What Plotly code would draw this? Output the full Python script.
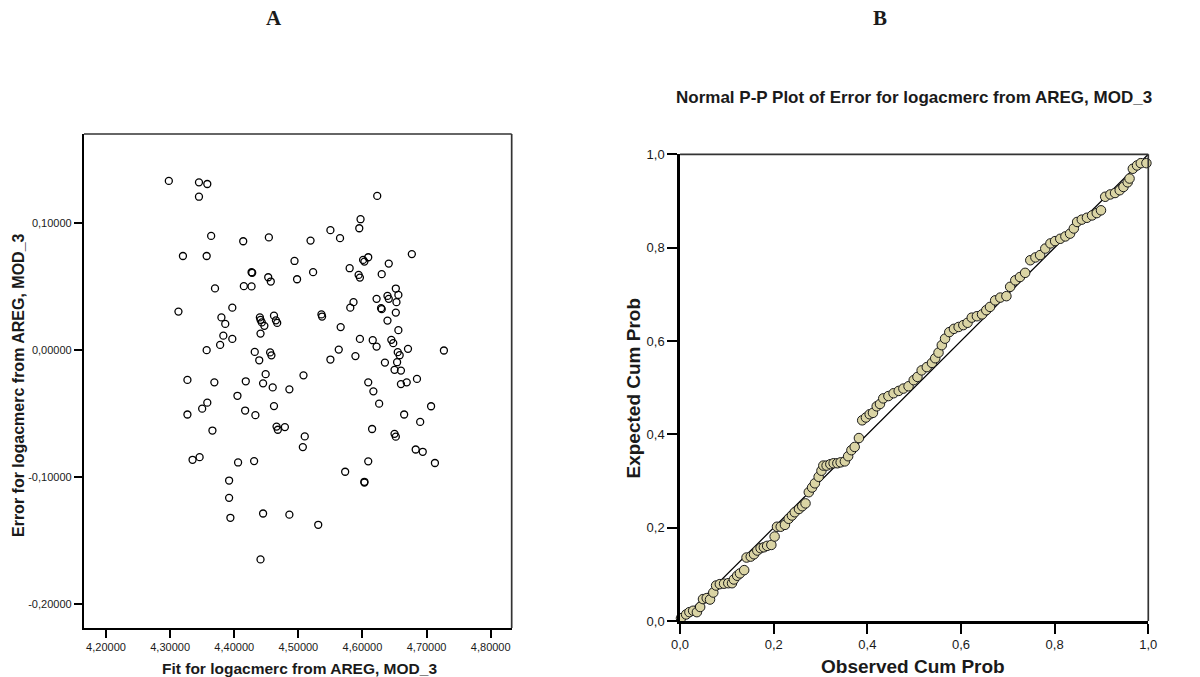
import plotly.graph_objects as go

# ---------------- Panel A: residuals vs fitted values ----------------
fit_values = [
    4.298, 4.345, 4.358, 4.345, 4.364, 4.320, 4.357, 4.370, 4.313, 4.397,
    4.380, 4.386, 4.383, 4.397, 4.378, 4.357, 4.327, 4.369, 4.358, 4.350,
    4.327, 4.366, 4.405, 4.418, 4.414, 4.454, 4.427, 4.428, 4.415, 4.427,
    4.453, 4.457, 4.494, 4.498, 4.440, 4.441, 4.443, 4.447, 4.462, 4.465,
    4.467, 4.441, 4.432, 4.456, 4.458, 4.439, 4.449, 4.445, 4.460, 4.486,
    4.462, 4.417, 4.433, 4.466, 4.468, 4.479, 4.510, 4.507, 4.335, 4.346,
    4.406, 4.431, 4.392, 4.392, 4.394, 4.445, 4.486, 4.531, 4.441, 4.519,
    4.550, 4.565, 4.523, 4.536, 4.537, 4.550, 4.508, 4.563, 4.566, 4.623,
    4.597, 4.595, 4.677, 4.601, 4.603, 4.609, 4.580, 4.641, 4.594, 4.596,
    4.630, 4.652, 4.622, 4.639, 4.641, 4.656, 4.653, 4.586, 4.581, 4.629,
    4.630, 4.652, 4.639, 4.656, 4.596, 4.616, 4.622, 4.645, 4.648, 4.589,
    4.671, 4.727, 4.655, 4.658, 4.654, 4.635, 4.650, 4.660, 4.685, 4.609,
    4.669, 4.660, 4.617, 4.626, 4.707, 4.665, 4.690, 4.615, 4.650, 4.652,
    4.683, 4.694, 4.713, 4.609, 4.573, 4.603, 4.603,
]
error_values = [
    0.1328, 0.1317, 0.1304, 0.1204, 0.0896, 0.0738, 0.0738, 0.0483, 0.0301, 0.0332,
    0.0255, 0.0204, 0.0112, 0.0086, 0.0039, -0.0002, -0.0236, -0.0255, -0.0415, -0.0462,
    -0.0508, -0.0634, -0.0361, -0.0247, 0.0854, 0.0884, 0.0610, 0.0606, 0.0501, 0.0499,
    0.0571, 0.0537, 0.0699, 0.0555, 0.0255, 0.0236, 0.0216, 0.0189, 0.0269, 0.0232,
    0.0212, 0.0128, -0.0016, -0.0020, -0.0043, -0.0082, -0.0191, -0.0263, -0.0295, -0.0310,
    -0.0442, -0.0477, -0.0513, -0.0603, -0.0628, -0.0607, -0.0680, -0.0764, -0.0864, -0.0843,
    -0.0885, -0.0874, -0.1027, -0.1163, -0.1320, -0.1286, -0.1295, -0.1375, -0.1647, 0.0859,
    0.0941, 0.0878, 0.0611, 0.0279, 0.0262, -0.0076, -0.0200, 0.0002, 0.0179, 0.1210,
    0.1027, 0.0956, 0.0753, 0.0707, 0.0694, 0.0728, 0.0642, 0.0678, 0.0589, 0.0568,
    0.0595, 0.0482, 0.0401, 0.0424, 0.0401, 0.0432, 0.0375, 0.0375, 0.0332, 0.0328,
    0.0320, 0.0293, 0.0230, 0.0155, 0.0086, 0.0076, 0.0026, 0.0079, 0.0053, -0.0049,
    0.0008, -0.0005, -0.0018, -0.0042, -0.0097, -0.0100, -0.0157, -0.0163, -0.0228, -0.0255,
    -0.0255, -0.0269, -0.0326, -0.0423, -0.0443, -0.0508, -0.0566, -0.0622, -0.0660, -0.0682,
    -0.0783, -0.0801, -0.0889, -0.0876, -0.0958, -0.1037, -0.1043,
]
fit_tick_values = [4.2, 4.3, 4.4, 4.5, 4.6, 4.7, 4.8]
fit_tick_labels = ["4,20000", "4,30000", "4,40000", "4,50000", "4,60000", "4,70000", "4,80000"]
error_tick_values = [-0.2, -0.1, 0.0, 0.1]
error_tick_labels = ["-0,20000", "-0,10000", "0,00000", "0,10000"]

# ---------------- Panel B: Normal P-P plot ----------------
observed_cum_prob = [
    0.002, 0.013, 0.020, 0.028, 0.036, 0.043, 0.049, 0.057, 0.064, 0.071,
    0.077, 0.085, 0.094, 0.103, 0.111, 0.115, 0.122, 0.128, 0.137, 0.142,
    0.151, 0.158, 0.165, 0.172, 0.179, 0.186, 0.195, 0.202, 0.207, 0.215,
    0.224, 0.232, 0.239, 0.245, 0.254, 0.261, 0.268, 0.275, 0.282, 0.288,
    0.296, 0.302, 0.306, 0.313, 0.321, 0.328, 0.336, 0.343, 0.352, 0.359,
    0.366, 0.373, 0.382, 0.389, 0.397, 0.405, 0.412, 0.420, 0.427, 0.434,
    0.445, 0.456, 0.467, 0.477, 0.488, 0.499, 0.507, 0.516, 0.527, 0.538,
    0.545, 0.552, 0.559, 0.566, 0.575, 0.585, 0.595, 0.605, 0.614, 0.623,
    0.634, 0.645, 0.654, 0.662, 0.673, 0.684, 0.697, 0.705, 0.716, 0.726,
    0.737, 0.748, 0.759, 0.769, 0.780, 0.791, 0.801, 0.812, 0.823, 0.833,
    0.841, 0.848, 0.858, 0.869, 0.880, 0.890, 0.899, 0.908, 0.919, 0.929,
    0.939, 0.947, 0.956, 0.960, 0.967, 0.976, 0.984, 0.996,
]
expected_cum_prob = [
    0.006, 0.014, 0.019, 0.022, 0.019, 0.030, 0.047, 0.049, 0.046, 0.061,
    0.076, 0.079, 0.080, 0.081, 0.081, 0.089, 0.097, 0.102, 0.109, 0.136,
    0.138, 0.143, 0.151, 0.156, 0.158, 0.161, 0.163, 0.181, 0.202, 0.202,
    0.206, 0.219, 0.226, 0.233, 0.240, 0.246, 0.252, 0.276, 0.286, 0.295,
    0.309, 0.322, 0.333, 0.333, 0.336, 0.338, 0.338, 0.340, 0.342, 0.353,
    0.366, 0.373, 0.392, 0.430, 0.436, 0.443, 0.446, 0.460, 0.465, 0.477,
    0.482, 0.488, 0.493, 0.498, 0.503, 0.516, 0.523, 0.537, 0.544, 0.553,
    0.563, 0.575, 0.591, 0.605, 0.619, 0.626, 0.630, 0.634, 0.639, 0.650,
    0.653, 0.657, 0.666, 0.673, 0.687, 0.693, 0.696, 0.716, 0.730, 0.737,
    0.746, 0.773, 0.779, 0.784, 0.798, 0.809, 0.814, 0.819, 0.824, 0.830,
    0.841, 0.855, 0.860, 0.864, 0.869, 0.874, 0.880, 0.909, 0.914, 0.917,
    0.923, 0.930, 0.940, 0.948, 0.969, 0.976, 0.981, 0.981,
]
reference_line = [0.0, 1.0]
prob_tick_values = [0.0, 0.2, 0.4, 0.6, 0.8, 1.0]
prob_tick_labels = ["0,0", "0,2", "0,4", "0,6", "0,8", "1,0"]

SANS = "Liberation Sans, Arial, sans-serif"
SERIF = "Liberation Serif, Times New Roman, serif"
TXT = "#1a1a1a"

fig = go.Figure()
fig.add_trace(go.Scatter(
    x=fit_values, y=error_values, mode="markers", xaxis="x", yaxis="y",
    marker=dict(symbol="circle-open", size=7, color="black", line=dict(width=1.3)),
    cliponaxis=False, showlegend=False,
))
fig.add_trace(go.Scatter(
    x=reference_line, y=reference_line, mode="lines", xaxis="x2", yaxis="y2",
    line=dict(color="black", width=1.3), showlegend=False,
))
fig.add_trace(go.Scatter(
    x=observed_cum_prob, y=expected_cum_prob, mode="markers", xaxis="x2", yaxis="y2",
    marker=dict(symbol="circle", size=9.5, color="#dad4a4", line=dict(color="#1a1a1a", width=1)),
    cliponaxis=False, showlegend=False,
))

common = dict(showgrid=False, zeroline=False, showline=True, linecolor="black",
              ticks="outside", tickcolor="black", mirror=False, automargin=False)

fig.update_layout(
    width=1200, height=677,
    autosize=False,
    margin=dict(l=0, r=0, t=0, b=0, pad=0),
    paper_bgcolor="white", plot_bgcolor="white",
    xaxis=dict(domain=[0.07, 0.4264], range=[4.1657, 4.8327], anchor="y",
               tickvals=fit_tick_values, ticktext=fit_tick_labels,
               ticklen=8, tickwidth=1.5, linewidth=2.3,
               tickfont=dict(family=SANS, size=11, color=TXT), **common),
    yaxis=dict(domain=[0.0724, 0.8021], range=[-0.2186, 0.1697], anchor="x",
               tickvals=error_tick_values, ticktext=error_tick_labels,
               ticklen=8, tickwidth=1.5, linewidth=2.3,
               tickfont=dict(family=SANS, size=11, color=TXT), **common),
    xaxis2=dict(domain=[0.5667, 0.9569], range=[0, 1], anchor="y2",
                tickvals=prob_tick_values, ticktext=prob_tick_labels,
                ticklen=10, tickwidth=2, linewidth=2.5,
                tickfont=dict(family=SANS, size=13, color=TXT), **common),
    yaxis2=dict(domain=[0.0827, 0.7721], range=[0, 1], anchor="x2",
                tickvals=prob_tick_values, ticktext=prob_tick_labels,
                ticklen=10, tickwidth=2, linewidth=2.5,
                tickfont=dict(family=SANS, size=13, color=TXT), **common),
)

# thinner top/right frame lines
for xr, yr in (("x domain", "y domain"), ("x2 domain", "y2 domain")):
    fig.add_shape(type="line", xref=xr, yref=yr, x0=0, x1=1, y0=1, y1=1,
                  line=dict(color="#333333", width=1.7))
    fig.add_shape(type="line", xref=xr, yref=yr, x0=1, x1=1, y0=0, y1=1,
                  line=dict(color="#333333", width=1.7))

def note(text, x, y, size, family=SANS, angle=0):
    fig.add_annotation(text=text, x=x, y=y, xref="paper", yref="paper",
                       xanchor="center", yanchor="middle", showarrow=False,
                       textangle=angle,
                       font=dict(family=family, size=size, color=TXT, weight="bold"))

note("A", 0.2283, 0.9734, 21, SERIF)
note("B", 0.7333, 0.9734, 21, SERIF)
note("Normal P-P Plot of Error for logacmerc from AREG, MOD_3", 0.7617, 0.8567, 17)
note("Fit for logacmerc from AREG, MOD_3", 0.2496, 0.0125, 15.5)
note("Error for logacmerc from AREG, MOD_3", 0.015, 0.4313, 16, angle=-90)
note("Observed Cum Prob", 0.7608, 0.0150, 19)
note("Expected Cum Prob", 0.5283, 0.4276, 19, angle=-90)

fig.write_html(
    "out.html",
    post_script="document.body.style.margin='0';document.body.style.overflow='hidden';",
)
